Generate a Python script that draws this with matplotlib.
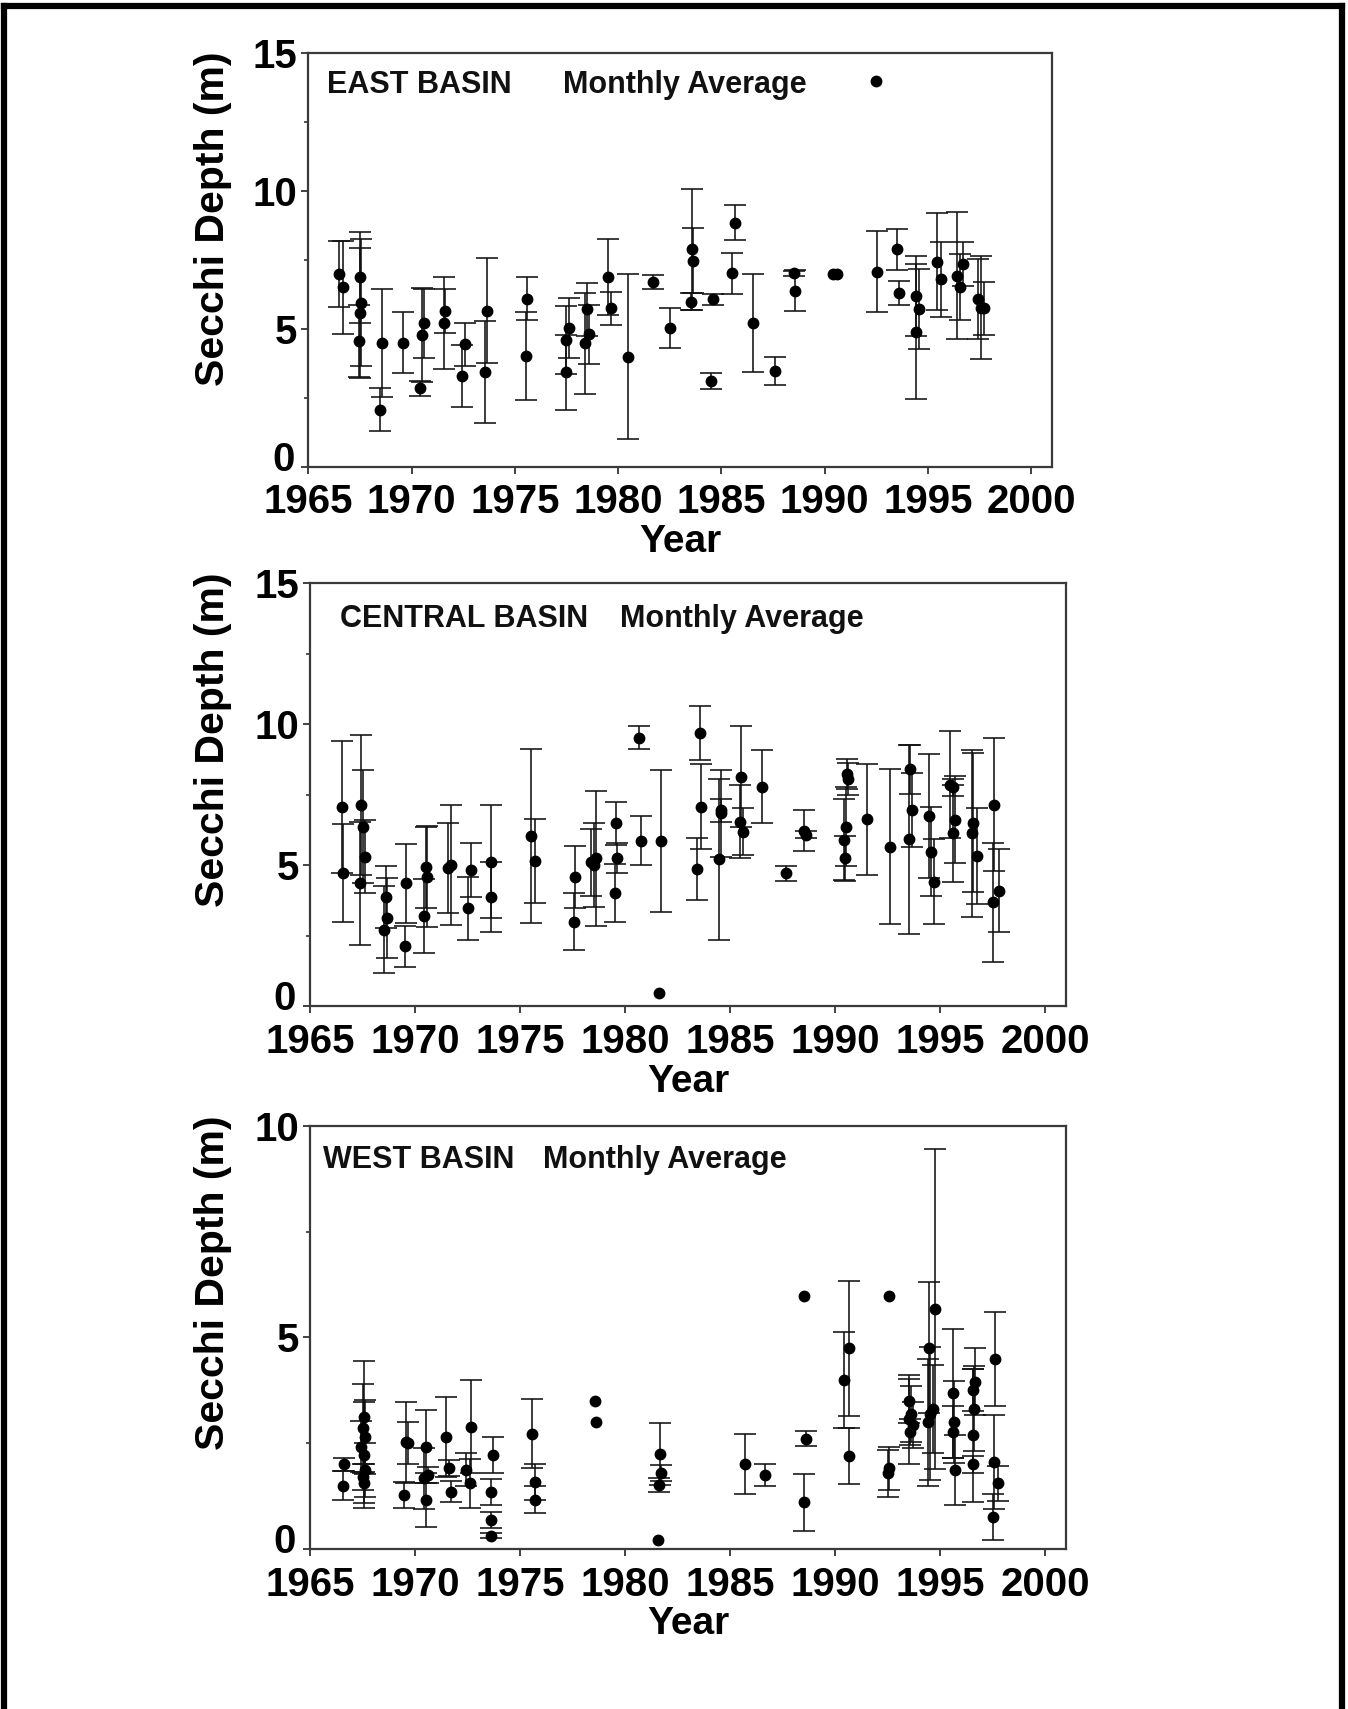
import numpy as np
import matplotlib
matplotlib.use('Agg')
import matplotlib.pyplot as plt
import matplotlib.transforms as mtransforms
from matplotlib.lines import Line2D

plt.rcParams['font.family'] = ['Liberation Sans', 'DejaVu Sans']
plt.rcParams['font.weight'] = 'bold'

# data: (year, monthly average secchi depth, error), nan = no error bar
nan = np.nan

east_year = [1966.5, 1966.7, 1967.5, 1967.55, 1967.5, 1967.45, 1968.47, 1968.55, 1969.6,
             1970.4, 1970.5, 1970.6, 1971.6, 1971.55, 1972.42, 1972.58, 1973.66, 1973.55,
             1975.6, 1975.53, 1977.5, 1977.63, 1977.47, 1978.5, 1978.6, 1978.4, 1979.5,
             1979.68, 1980.5, 1981.7, 1982.5, 1983.56, 1983.65, 1983.55, 1984.48, 1984.6,
             1985.66, 1985.53, 1986.55, 1987.6, 1988.5, 1988.55, 1990.4, 1990.6, 1992.55,
             1993.5, 1993.62, 1994.45, 1994.55, 1994.45, 1995.45, 1995.65, 1996.71, 1996.42,
             1996.55, 1997.45, 1997.7, 1997.6]
east_depth = [7.0, 6.5, 6.87, 5.95, 5.56, 4.56, 2.06, 4.47, 4.5,
              2.84, 4.78, 5.2, 5.66, 5.2, 3.29, 4.44, 5.66, 3.42,
              6.09, 4.01, 3.42, 5.02, 4.6, 5.71, 4.8, 4.47, 6.87,
              5.74, 3.99, 6.71, 5.02, 7.88, 7.47, 5.99, 3.12, 6.07,
              8.85, 7.01, 5.2, 3.48, 7.01, 6.38, 6.98, 6.98, 7.07,
              7.88, 6.29, 6.19, 5.71, 4.9, 7.44, 6.8, 7.35, 6.92,
              6.53, 6.07, 5.74, 5.77]
east_err = [1.2, 1.7, 1.65, 2.3, 2.36, 1.3, 0.78, 1.96, 1.1,
            0.28, 1.7, 1.25, 0.8, 1.67, 1.14, 0.78, 1.9, 1.85,
            0.78, 1.6, 1.36, 1.08, 1.23, 0.96, 1.08, 1.83, 1.38,
            0.6, 3.0, 0.25, 0.73, 2.2, 1.17, 0.3, 0.29, 0.2,
            0.64, 0.75, 1.77, 0.5, 0.1, 0.74, nan, nan, 1.47,
            0.73, 0.43, 1.45, 1.45, 2.46, 1.75, 1.36, 0.8, 2.3,
            1.2, 1.45, 0.95, 1.87]
east_key = (1992.47, 13.97)

central_year = [1966.5, 1966.58, 1967.45, 1967.5, 1967.6, 1967.4, 1968.61, 1968.65, 1968.5,
                1969.57, 1969.5, 1970.53, 1970.45, 1970.55, 1971.69, 1971.55, 1972.65, 1972.5,
                1973.64, 1973.6, 1975.53, 1975.69, 1977.63, 1977.55, 1978.6, 1978.5, 1978.4,
                1979.58, 1979.63, 1979.52, 1980.67, 1980.75, 1981.71, 1981.6,
                1983.57, 1983.6, 1983.44, 1984.59, 1984.47, 1984.55, 1985.54, 1985.48, 1985.64,
                1986.54, 1987.66, 1988.54, 1988.61, 1990.57, 1990.6, 1990.53, 1990.45, 1990.48,
                1991.53, 1992.6, 1993.55, 1993.66, 1993.5, 1994.46, 1994.59, 1994.71,
                1995.46, 1995.62, 1995.7, 1995.62, 1996.58, 1996.5, 1996.78, 1997.58, 1997.8,
                1997.53]
central_depth = [7.06, 4.74, 7.14, 6.37, 5.31, 4.36, 3.89, 3.12, 2.71,
                 4.36, 2.12, 4.93, 3.2, 4.6, 5.01, 4.9, 4.83, 3.47,
                 5.13, 3.89, 6.04, 5.15, 4.6, 3.0, 5.25, 5.01, 5.1,
                 6.49, 5.25, 4.03, 9.53, 5.87, 5.87, 0.46,
                 9.7, 7.08, 4.87, 6.84, 5.21, 6.95, 8.14, 6.55, 6.19,
                 7.79, 4.72, 6.23, 6.08, 8.24, 8.05, 6.37, 5.9, 5.25,
                 6.63, 5.66, 8.4, 6.96, 5.92, 6.75, 5.48, 4.42,
                 7.85, 7.77, 6.61, 6.13, 6.51, 6.13, 5.33, 7.14, 4.1,
                 3.68]
central_err = [2.33, 1.74, 2.48, 2.0, 1.31, 2.19, 1.1, 1.42, 1.54,
               1.4, 0.74, 1.44, 1.3, 1.8, 2.13, 1.6, 0.97, 1.12,
               2.0, 1.24, 3.1, 1.5, 1.1, 1.0, 2.4, 1.5, 1.2,
               0.77, 0.53, 1.03, 0.4, 0.87, 2.51, nan,
               0.96, 1.5, 1.1, 1.54, 2.86, 0.4, 1.8, 1.3, 0.84,
               1.3, 0.27, 0.73, 0.12, 0.52, 0.57, 1.4, 1.44, 0.8,
               1.96, 2.74, 0.87, 1.3, 3.35, 2.2, 1.58, 1.5,
               1.9, 0.3, 1.54, 1.71, 2.46, 2.95, 1.7, 2.36, 1.47,
               2.1]

west_year = [1966.61, 1966.58, 1967.55, 1967.5, 1967.6, 1967.45, 1967.55, 1967.6, 1967.5,
             1967.55, 1969.57, 1969.65, 1969.46, 1970.53, 1970.61, 1970.45, 1970.53,
             1971.49, 1971.6, 1971.69, 1972.65, 1972.44, 1972.6, 1973.69, 1973.64, 1973.61,
             1973.61, 1975.56, 1975.69, 1975.72, 1978.59, 1978.63, 1981.68, 1981.71, 1981.6,
             1981.55, 1985.7, 1986.66, 1988.54, 1988.61, 1988.54, 1990.68, 1990.45, 1990.68,
             1992.55, 1992.55, 1992.52, 1993.5, 1993.63, 1993.5, 1993.71, 1993.55,
             1994.75, 1994.46, 1994.67, 1994.5, 1994.43, 1995.62, 1995.67, 1995.62, 1995.7,
             1996.66, 1996.58, 1996.62, 1996.58, 1996.58, 1997.61, 1997.58, 1997.77, 1997.53]
west_depth = [2.0, 1.5, 3.13, 2.85, 2.65, 2.42, 2.22, 1.87, 1.71,
              1.55, 2.52, 2.5, 1.28, 2.42, 1.75, 1.67, 1.16,
              2.65, 1.91, 1.35, 2.89, 1.87, 1.55, 2.22, 1.35, 0.69,
              0.31, 2.73, 1.59, 1.16, 3.5, 3.01, 2.24, 1.79, 1.51,
              0.21, 2.0, 1.75, 5.98, 2.61, 1.1, 4.74, 3.99, 2.2,
              5.98, 1.91, 1.79, 3.5, 3.2, 3.07, 2.93, 2.77,
              5.67, 4.76, 3.32, 3.2, 3.0, 3.68, 3.0, 2.77, 1.87,
              3.95, 3.76, 3.32, 2.69, 2.0, 4.49, 2.06, 1.55, 0.76]
west_err = [0.15, 0.34, 1.31, 1.06, 0.87, 0.6, 1.26, 0.63, 0.31,
            0.47, 0.96, 0.5, 0.3, 0.86, 0.19, 0.72, 0.63,
            0.95, 0.19, 0.25, 1.1, 0.39, 0.57, 0.43, 0.31, 0.19,
            0.06, 0.81, 0.43, 0.32, nan, nan, 0.73, 0.19, 0.16,
            nan, 0.71, 0.25, nan, 0.17, 0.68, 1.6, 1.14, 0.67,
            nan, 0.51, 0.55, 0.53, 0.66, 1.05, 0.55, 0.3,
            3.79, 1.55, 1.04, 1.57, 1.5, 1.53, 0.97, 0.62, 0.83,
            0.79, 0.5, 1.0, 1.57, 0.21, 1.12, 1.11, 0.42, 0.55]

year_ticks = [1965, 1970, 1975, 1980, 1985, 1990, 1995, 2000]

panels = [
    dict(name='east', year=east_year, depth=east_depth, err=east_err, ymax=15,
         rect=[0.2287, 0.7269, 0.5515, 0.2421], ylab_y=0.60,
         texts=[('EAST BASIN', 0.0248, 0.9026), ('Monthly Average', 0.3422, 0.9026)]),
    dict(name='central', year=central_year, depth=central_depth, err=central_err, ymax=15,
         rect=[0.2300, 0.4112, 0.5608, 0.2475], ylab_y=0.63,
         texts=[('CENTRAL BASIN', 0.0397, 0.896), ('Monthly Average', 0.410, 0.896)]),
    dict(name='west', year=west_year, depth=west_depth, err=west_err, ymax=10,
         rect=[0.2300, 0.0936, 0.5608, 0.2476], ylab_y=0.63,
         texts=[('WEST BASIN', 0.0176, 0.8996), ('Monthly Average', 0.3086, 0.8996)]),
]

fig = plt.figure(figsize=(13.48, 17.09), dpi=100)
raise_zero = mtransforms.ScaledTranslation(-2 / 72, 8 / 72, fig.dpi_scale_trans)

for p in panels:
    ax = fig.add_axes(p['rect'])
    yr = np.array(p['year'])
    d = np.array(p['depth'])
    e = np.array(p['err'])
    m = ~np.isnan(e)
    ax.errorbar(yr[m], d[m], yerr=e[m], fmt='none', ecolor='#111111',
                elinewidth=1.15, capsize=8, capthick=1.15, zorder=2)
    ax.plot(yr, d, 'o', color='black', markersize=7.5, zorder=3)

    ax.set_xlim(1965, 2001)
    ax.set_ylim(0, p['ymax'])
    ax.set_xticks(year_ticks)
    ax.set_xticklabels([str(y) for y in year_ticks])
    yt = list(range(0, p['ymax'] + 1, 5))
    ax.set_yticks(yt)
    ax.set_yticklabels([str(v) for v in yt])
    ax.set_yticks(np.arange(2.5, p['ymax'], 5), minor=True)
    ax.tick_params(axis='both', which='major', direction='out', length=5, width=1.3,
                   labelsize=29, colors='#333333', labelcolor='black')
    ax.tick_params(axis='x', pad=7)
    ax.tick_params(axis='y', pad=3)
    ax.tick_params(axis='y', which='minor', direction='out', length=3, width=1.2,
                   colors='#333333')
    for lab in ax.get_xticklabels() + ax.get_yticklabels():
        lab.set_fontweight('bold')
    # the 0 label sits a little higher, clear of the year labels
    zero = ax.yaxis.get_major_ticks()[0].label1
    zero.set_transform(zero.get_transform() + raise_zero)
    for s in ax.spines.values():
        s.set_linewidth(1.6)
        s.set_color('#3a3a3a')

    ax.set_xlabel('Year', fontsize=28, fontweight='bold', labelpad=2)
    ax.set_ylabel('Secchi Depth (m)', fontsize=29.5, fontweight='bold')
    ax.yaxis.set_label_coords(-0.103, p['ylab_y'])

    for txt, tx, ty in p['texts']:
        ax.text(tx, ty, txt, transform=ax.transAxes, fontsize=22, fontweight='bold',
                ha='left', va='baseline', color='#111111')

    if p['name'] == 'east':
        ax.plot([east_key[0]], [east_key[1]], 'o', color='black', markersize=7.5)

# outer frame round the figure
frame = dict(color='black', linewidth=4.5, transform=fig.transFigure)
fig.add_artist(Line2D([0.0026, 0.0026], [0, 0.9965], **frame))
fig.add_artist(Line2D([0.9952, 0.9952], [0, 0.9965], **frame))
fig.add_artist(Line2D([0.0026, 0.9952], [0.9965, 0.9965], **frame))

fig.savefig('out.png', dpi=100)
